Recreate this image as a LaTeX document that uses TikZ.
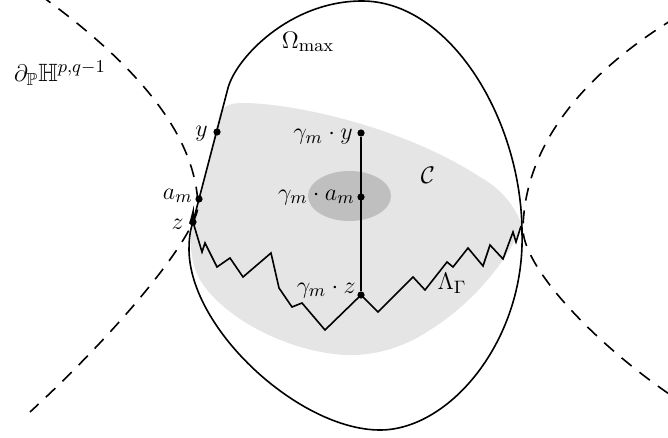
\documentclass[tikz,border=0pt]{standalone}
\usepackage{amssymb}
\begin{document}
\begin{tikzpicture}[x=0.5pt,y=-0.5pt,
  dot/.style={circle,fill=black,inner sep=0pt,minimum size=3.6pt},
  curve/.style={line width=0.8pt,line join=miter},
  bdry/.style={line width=0.8pt,dash pattern=on 6.5pt off 5pt},
  lbl/.style={inner sep=0pt,font=\fontsize{12.5}{15}\selectfont}]
\useasboundingbox (0,0) rectangle (668,438);
% convex region C
\fill[gray!20] (243,103) .. controls (290,103) and (400,125) .. (480,177)
  .. controls (500,188) and (515,205) .. (522,226)
  .. controls (505,265) and (470,305) .. (430,330)
  .. controls (400,350) and (370,356) .. (345,355)
  .. controls (290,352) and (225,320) .. (200,280)
  .. controls (190,262) and (189,240) .. (193,222)
  -- (220,113) .. controls (224,105) and (232,103) .. (243,103) -- cycle;
% neighbourhood of gamma_m a_m
\fill[gray!50] (349.5,196) ellipse [x radius=20.75pt, y radius=12.5pt];
% boundary of H^{p,q}
\draw[bdry] (40,-5) .. controls (130,60) and (195,130) .. (198,205)
  .. controls (199,230) and (130,320) .. (30,412);
\draw[bdry] (675,18) .. controls (590,70) and (525,140) .. (523,228)
  .. controls (522,265) and (590,340) .. (672,396);
% Omega_max
\draw[curve] (193,222) -- (228,88)
  .. controls (236,58) and (290,1) .. (362,1)
  .. controls (450,1) and (522,120) .. (522,233)
  .. controls (525,340) and (450,430) .. (380,430)
  .. controls (300,430) and (190,330) .. (189,250)
  .. controls (189,235) and (191,228) .. (193,222) -- cycle;
% points
\node[dot] (y) at (217,132) {};
\node[dot] (am) at (199,199) {};
\node[dot] (z) at (193,222) {};
\node[dot] (gy) at (361,133) {};
\node[dot] (ga) at (361,197) {};
\node[dot] (gz) at (361,295) {};
% segment gamma_m y -- gamma_m z
\draw[curve] (gy) -- (gz);
% limit set
\draw[curve] (190,224) -- (193,212) -- (z.center) -- (202,252) -- (205,243) -- (217,267) -- (230,258) -- (243,277) -- (271,253) -- (279,288) -- (292,307) -- (302,303) -- (325,330) -- (gz.center) -- (378,312) -- (413,277) -- (425,290) -- (447,262) -- (453,267) -- (468,248) -- (483,266) -- (490,245) -- (503,259) -- (513,232) -- (516,242) -- (521,226);
% labels
\node[lbl] (dlab) at (60,73) {$\partial_{\mathbb{P}}\mathbb{H}^{p,q-1}$};
\node[lbl] (om) at (308,42) {$\Omega_{\max}$};
\node[lbl] (C) at (428,175) {$\mathcal{C}$};
\node[lbl] (lam) at (452,283) {$\Lambda_\Gamma$};
\node[lbl,anchor=east] (ylab) at (208,134) {$y$};
\node[lbl,anchor=east] (amlab) at (193,196) {$a_m$};
\node[lbl,anchor=east] (zlab) at (184,224) {$z$};
\node[lbl,anchor=east] (gylab) at (353,137) {$\gamma_m\cdot y$};
\node[lbl,anchor=east] (galab) at (355,197) {$\gamma_m\cdot a_m$};
\node[lbl,anchor=east] (gzlab) at (356,290) {$\gamma_m\cdot z$};
\end{tikzpicture}
\end{document}
